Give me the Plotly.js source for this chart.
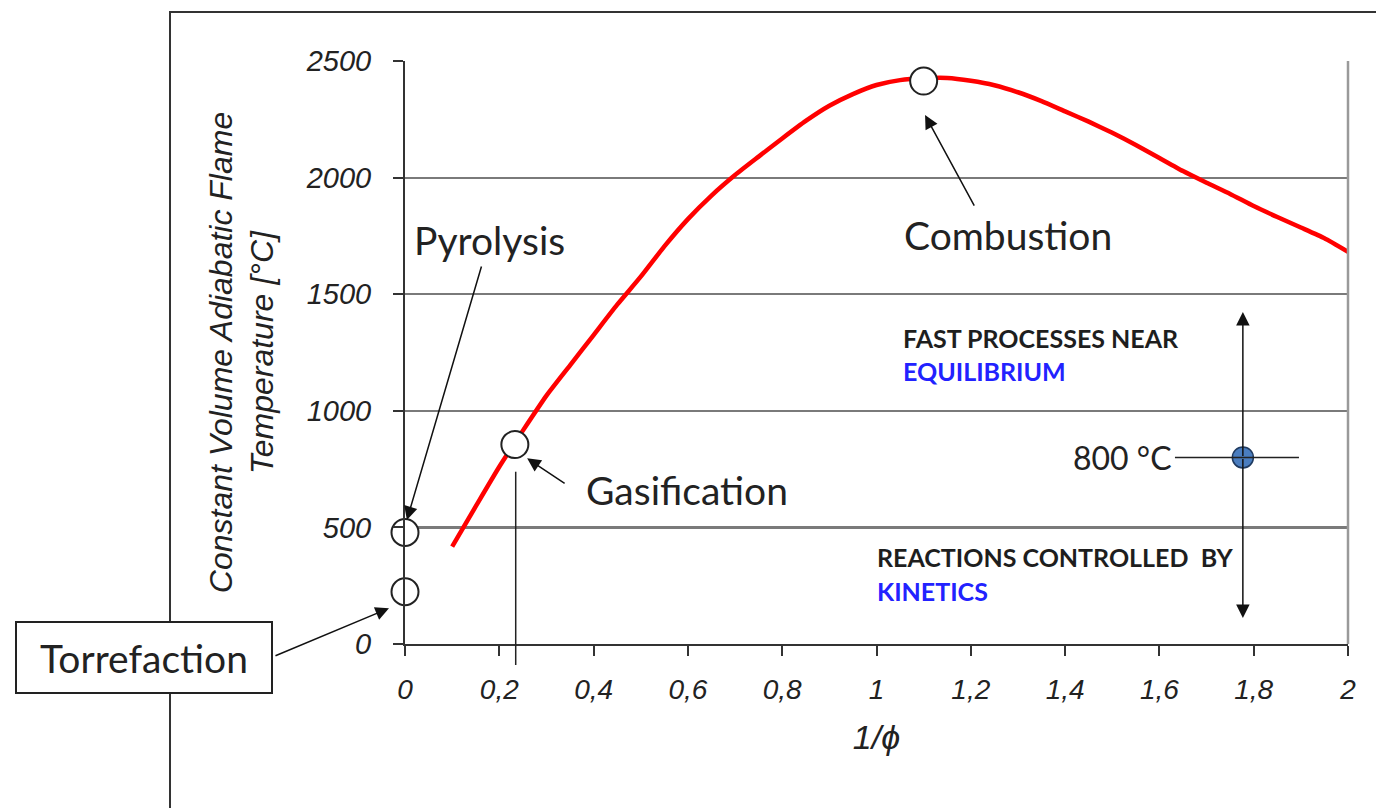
<!DOCTYPE html>
<html>
<head>
<meta charset="utf-8">
<script src="https://cdn.plot.ly/plotly-3.0.1.min.js"></script>
<style>
  html, body { margin: 0; padding: 0; background: #ffffff; }
  #chart { width: 1376px; height: 808px; }
</style>
</head>
<body>
<div id="chart"></div>
<script>
// ---- data ----
const curveX = [0.10, 0.15, 0.20, 0.25, 0.30, 0.35, 0.40, 0.45, 0.50, 0.55, 0.60, 0.65, 0.70, 0.75, 0.80, 0.85, 0.90, 0.95, 1.00, 1.05, 1.10, 1.15, 1.20, 1.25, 1.30, 1.35, 1.40, 1.45, 1.50, 1.55, 1.60, 1.65, 1.70, 1.75, 1.80, 1.85, 1.90, 1.95, 2.00];
const curveY = [418, 590, 760, 915, 1065, 1195, 1325, 1455, 1575, 1705, 1822, 1923, 2011, 2090, 2168, 2243, 2308, 2358, 2397, 2418, 2426, 2427, 2415, 2396, 2366, 2328, 2284, 2240, 2192, 2140, 2084, 2028, 1978, 1930, 1878, 1831, 1786, 1740, 1682];

const stageNames = ["Torrefaction", "Pyrolysis", "Gasification", "Combustion"];
const stageX = [0, 0, 0.233, 1.10];
const stageY = [224, 478, 855, 2414];

const refX = [1.777];
const refY = [800];
const refLabel = "800 °C";

const xTickVals = [0, 0.2, 0.4, 0.6, 0.8, 1, 1.2, 1.4, 1.6, 1.8, 2];
const xTickText = ["0", "0,2", "0,4", "0,6", "0,8", "1", "1,2", "1,4", "1,6", "1,8", "2"];
const yTickVals = [0, 500, 1000, 1500, 2000, 2500];
const yTickText = ["0", "500", "1000", "1500", "2000", "2500"];

const xTitle = "1/ϕ";
const yTitle = "Constant Volume Adiabatic Flame<br>Temperature [°C]";

const upperText = ["FAST PROCESSES NEAR", "EQUILIBRIUM"];
const lowerText = ["REACTIONS CONTROLLED  BY", "KINETICS"];

// ---- styling ----
const arialItalic = {family: "Liberation Sans, Arial, sans-serif", style: "italic", color: "#222"};
const labelFont = {family: "Lato, 'Open Sans', sans-serif", size: 39, color: "#222"};
const boldFont = {family: "Lato, 'Open Sans', sans-serif", size: 25, color: "#1e1e1e", weight: 700};
const blueFont = {family: "Lato, 'Open Sans', sans-serif", size: 25, color: "#2222ff", weight: 700};

const traces = [
  {
    type: "scatter", mode: "lines",
    x: curveX, y: curveY,
    line: {color: "#ff0000", width: 4.5, shape: "spline", smoothing: 0.5},
    hoverinfo: "skip"
  },
  {
    type: "scatter", mode: "markers",
    x: stageX, y: stageY, text: stageNames,
    cliponaxis: false,
    marker: {symbol: "circle", size: 27, color: "#ffffff", line: {color: "#222", width: 2}}
  },
  {
    type: "scatter", mode: "markers",
    x: refX, y: refY,
    cliponaxis: false,
    marker: {symbol: "circle", size: 21, color: "#4a7dbf", line: {color: "#1f3a60", width: 1.5}}
  }
];

const arrowStyle = {showarrow: true, arrowhead: 2, arrowsize: 1.8, arrowwidth: 1.5, arrowcolor: "#111", standoff: 0, startstandoff: 0};

const annotations = [
  // stage labels
  {xref: "x", yref: "y", x: 0.180, y: 1732, text: stageNames[1], showarrow: false, font: labelFont},
  {xref: "x", yref: "y", x: 0.598, y: 660, text: stageNames[2], showarrow: false, font: labelFont},
  {xref: "x", yref: "y", x: 1.279, y: 1754, text: stageNames[3], showarrow: false, font: labelFont},
  {xref: "paper", yref: "paper", x: -0.2768, y: -0.0223, xanchor: "center", yanchor: "middle",
   text: stageNames[0], showarrow: false, font: labelFont,
   bgcolor: "#ffffff", bordercolor: "#222", borderwidth: 2, width: 254, height: 69, borderpad: 0},
  // arrows to stage points
  Object.assign({xref: "x", yref: "y", x: 0.004, y: 532, ax: 75, ay: -255, text: ""}, arrowStyle),
  Object.assign({xref: "x", yref: "y", x: 0.259, y: 796, ax: 39, ay: 26, text: ""}, arrowStyle),
  Object.assign({xref: "x", yref: "y", x: 1.103, y: 2268, ax: 50, ay: 92, text: ""}, arrowStyle),
  Object.assign({xref: "paper", yref: "paper", x: -0.017, y: 0.0612, ax: -115, ay: 48, text: ""}, arrowStyle),
  // 800 °C marker arrows
  Object.assign({xref: "x", yref: "y", axref: "x", ayref: "y", x: refX[0], y: 1424, ax: refX[0], ay: refY[0], text: ""}, arrowStyle),
  Object.assign({xref: "x", yref: "y", axref: "x", ayref: "y", x: refX[0], y: 111, ax: refX[0], ay: refY[0], text: ""}, arrowStyle),
  {xref: "x", yref: "y", x: 1.630, y: refY[0], xanchor: "right", text: refLabel, showarrow: false,
   font: {family: "Lato, 'Open Sans', sans-serif", size: 32, color: "#222"}},
  // regime texts
  {xref: "x", yref: "y", x: 1.052, y: 1314, xanchor: "left", text: upperText[0], showarrow: false, font: boldFont},
  {xref: "x", yref: "y", x: 1.052, y: 1171, xanchor: "left", text: upperText[1], showarrow: false, font: blueFont},
  {xref: "x", yref: "y", x: 0.997, y: 371, xanchor: "left", text: lowerText[0], showarrow: false, font: boldFont},
  {xref: "x", yref: "y", x: 0.997, y: 228, xanchor: "left", text: lowerText[1], showarrow: false, font: blueFont}
];

const shapes = [
  // outer frame (runs off the right and bottom of the picture)
  {type: "rect", xref: "paper", yref: "paper", x0: -0.2492, x1: 1.3, y0: -0.6, y1: 1.084,
   line: {color: "#333", width: 2}, layer: "below"},
  // right border of the plot area
  {type: "line", xref: "paper", yref: "paper", x0: 1, x1: 1, y0: 0, y1: 1,
   line: {color: "#9a9a9a", width: 2.5}},
  // drop line under the gasification point
  {type: "line", xref: "x", yref: "paper", x0: 0.2348, x1: 0.2348, y0: -0.036, y1: 0.2955,
   line: {color: "#222", width: 1.5}},
  // horizontal line through the 800 °C point
  {type: "line", xref: "x", yref: "y", x0: 1.633, x1: 1.896, y0: refY[0], y1: refY[0],
   line: {color: "#222", width: 1.5}}
];

const layout = {
  width: 1376, height: 808,
  margin: {l: 405, r: 28, t: 61, b: 164, pad: 0},
  paper_bgcolor: "#ffffff", plot_bgcolor: "#ffffff",
  showlegend: false,
  xaxis: {
    range: [0, 2], tickvals: xTickVals, ticktext: xTickText,
    ticks: "outside", ticklen: 10, tickwidth: 2, tickcolor: "#333",
    showline: true, linecolor: "#333", linewidth: 2,
    showgrid: false, zeroline: false,
    tickfont: Object.assign({size: 28}, arialItalic),
    ticklabelstandoff: 9,
    title: {text: xTitle, font: Object.assign({size: 34}, arialItalic), standoff: 22}
  },
  yaxis: {
    range: [0, 2500], tickvals: yTickVals, ticktext: yTickText,
    ticks: "outside", ticklen: 10, tickwidth: 2, tickcolor: "#333",
    showline: true, linecolor: "#333", linewidth: 2,
    showgrid: true, gridcolor: "#7a7a7a", gridwidth: 2.2,
    zeroline: false,
    tickfont: Object.assign({size: 29}, arialItalic),
    ticklabelstandoff: 16,
    title: {text: yTitle, font: Object.assign({size: 32}, arialItalic), standoff: 22}
  },
  shapes: shapes,
  annotations: annotations
};

Plotly.newPlot("chart", traces, layout, {displayModeBar: false, staticPlot: true});
</script>
</body>
</html>
